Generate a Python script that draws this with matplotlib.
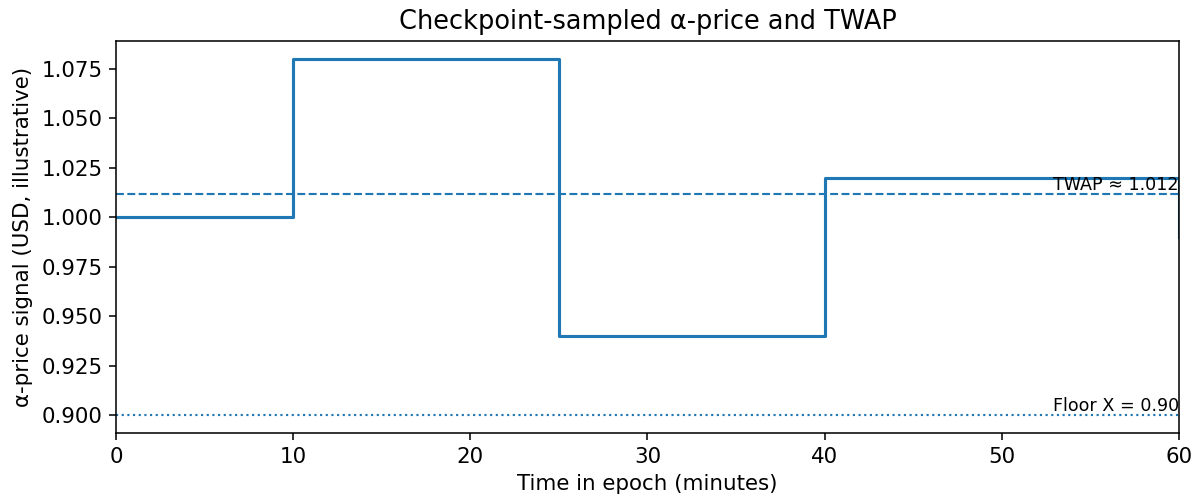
import matplotlib.pyplot as plt

# checkpoint times (minutes) and sampled alpha-price
t_checkpoints = [0, 10, 25, 40, 60]
alpha_price = [1.00, 1.08, 0.94, 1.02, 0.99]
twap = 1.0117
floor_x = 0.90

plt.rcParams['font.size'] = 11

fig = plt.figure(figsize=(1203 / 140, 504 / 140), dpi=140)
ax = fig.add_axes([0.0964, 0.1409, 0.9837 - 0.0964 - 0.0037, 0.9187 - 0.1409])

ax.step(t_checkpoints, alpha_price, where='post', color='#1f77b4', lw=1.6)
ax.axhline(twap, color='#1f77b4', ls='--', lw=1.1)
ax.axhline(floor_x, color='#1f77b4', ls=':', lw=1.1)

ax.text(60, twap, "TWAP \u2248 1.012", ha='right', va='bottom', fontsize=9)
ax.text(60, floor_x, "Floor X = 0.90", ha='right', va='bottom', fontsize=9)

ax.set_xlim(0, 60)
ax.set_yticks([0.900, 0.925, 0.950, 0.975, 1.000, 1.025, 1.050, 1.075])
ax.yaxis.set_major_formatter(plt.FormatStrFormatter('%.3f'))
ax.set_title("Checkpoint-sampled \u03b1-price and TWAP", fontsize=13.2)
ax.set_xlabel("Time in epoch (minutes)")
ax.set_ylabel("\u03b1-price signal (USD, illustrative)")

fig.savefig("out.png", dpi=140)
